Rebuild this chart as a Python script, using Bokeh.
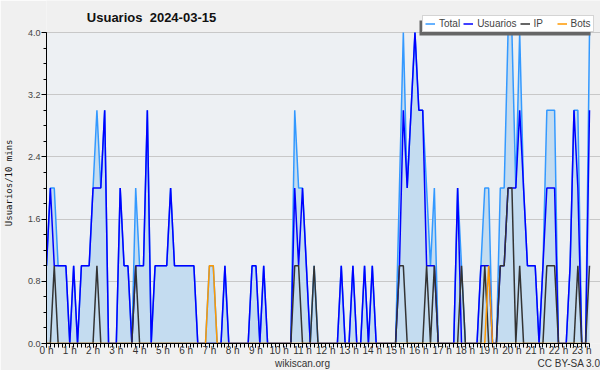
import math
from bokeh.plotting import figure
from bokeh.models import (Range1d, FixedTicker, Label, Legend, LegendItem,
                          ColumnDataSource, BoxAnnotation)
from bokeh.embed import file_html
from bokeh.resources import INLINE

# 10-minute slots of 2024-03-15 (0 = 00:00 ... 140 = 23:20)
slot = list(range(141))
hours = [s / 6 for s in slot]

total = [1,2,2,1,1,1,0,1,0,1,
         1,1,2,3,2,3,0,0,0,2,
         1,1,0,2,1,1,3,0,1,1,
         1,1,2,1,1,1,1,1,1,0,
         0,0,1,1,0,0,1,0,0,0,
         0,0,0,1,1,0,1,0,0,0,
         0,0,0,0,3,2,2,1,0,1,
         0,0,0,0,0,0,1,0,0,1,
         0,0,1,0,1,0,0,0,0,0,
         0,2,4,2,3,4,3,3,2,1,
         2,0,0,0,0,0,2,1,0,0,
         0,0,1,2,2,0,0,2,2,4,
         4,2,4,2,1,1,1,0,1,3,
         3,3,0,0,0,1,3,3,0,0,4]

usuarios = [1,2,1,1,1,1,0,1,0,1,
            1,1,2,2,2,3,0,0,0,2,
            1,1,0,1,1,1,3,0,1,1,
            1,1,2,1,1,1,1,1,1,0,
            0,0,0,0,0,0,1,0,0,0,
            0,0,0,1,1,0,1,0,0,0,
            0,0,0,0,2,1,2,1,0,0,
            0,0,0,0,0,0,1,0,0,1,
            0,0,1,0,1,0,0,0,0,0,
            0,1,3,2,3,4,3,3,1,1,
            1,0,0,0,0,0,2,0,0,0,
            0,0,1,1,1,0,0,1,1,2,
            2,2,3,2,1,1,1,0,1,2,
            2,2,0,0,0,1,3,2,0,0,3]

ip = [0,0,1,0,0,0,0,0,0,0,
      0,0,0,1,0,0,0,0,0,0,
      0,0,0,1,0,0,0,0,0,0,
      0,0,0,0,0,0,0,0,0,0,
      0,0,0,0,0,0,0,0,0,0,
      0,0,0,0,0,0,0,0,0,0,
      0,0,0,0,1,1,0,0,0,1,
      0,0,0,0,0,0,0,0,0,0,
      0,0,0,0,0,0,0,0,0,0,
      0,1,1,0,0,0,0,0,1,0,
      1,0,0,0,0,0,0,1,0,0,
      0,0,0,1,0,0,0,1,1,2,
      2,0,1,0,0,0,0,0,0,1,
      1,1,0,0,0,0,0,1,0,0,1]

bots = [0,0,0,0,0,0,0,0,0,0,
        0,0,0,0,0,0,0,0,0,0,
        0,0,0,0,0,0,0,0,0,0,
        0,0,0,0,0,0,0,0,0,0,
        0,0,1,1,0,0,0,0,0,0,
        0,0,0,0,0,0,0,0,0,0,
        0,0,0,0,0,0,0,0,0,0,
        0,0,0,0,0,0,0,0,0,0,
        0,0,0,0,0,0,0,0,0,0,
        0,0,0,0,0,0,0,0,0,0,
        0,0,0,0,0,0,0,0,0,0,
        0,0,0,0,1,0,0,0,0,0,
        0,0,0,0,0,0,0,0,0,0,
        0,0,0,0,0,0,0,0,0,0,0]

hour_ticks = list(range(24))
hour_labels = {h: f"{h} h" for h in hour_ticks}
y_ticks = [0.0, 0.8, 1.6, 2.4, 3.2, 4.0]
x_end = 140 / 6

# layout geometry (pixels)
PX_H = 543 / x_end        # pixels per hour
PX_U = 311 / 4.0          # pixels per user

src = ColumnDataSource(dict(x=hours, total=total, usuarios=usuarios, ip=ip, bots=bots))

p = figure(frame_width=554, frame_height=343, output_backend="svg", toolbar_location=None,
           x_range=Range1d(0, 554 / PX_H), y_range=Range1d(0, 343 / PX_U),
           min_border_left=46, min_border_right=0, min_border_top=0, min_border_bottom=27)

p.background_fill_color = "#f0f0f0"
p.border_fill_color = "#f0f0f0"
p.outline_line_color = None

# plot-area background
p.add_layout(BoxAnnotation(left=0, right=x_end, bottom=0, top=4, fill_color="#edf0f3",
                           fill_alpha=1.0, line_color=None, level="image"))

p.varea(x="x", y1=0, y2="total", source=src, fill_color="#c4dcf0", fill_alpha=1.0)
r_total = p.line("x", "total", source=src, line_color="#3399ff", line_width=1.5)
r_us = p.line("x", "usuarios", source=src, line_color="#0000ff", line_width=1.5)
r_ip = p.line("x", "ip", source=src, line_color="#333333", line_width=1.5)
r_bots = p.line("x", "bots", source=src, line_color="#ff9900", line_width=1.5)

# x axis (footer texts ride as second lines of tick labels)
xt = hour_ticks + [22.5]
xl = dict(hour_labels)
xl[11] = "11 h\nwikiscan.org"
xl[22.5] = " \nCC BY-SA 3.0"
p.xaxis.ticker = FixedTicker(ticks=xt, minor_ticks=hours)
p.xaxis.major_label_overrides = xl
p.xaxis.bounds = (0, x_end)
p.xaxis.major_tick_out = 4
p.xaxis.major_tick_in = 0
p.xaxis.minor_tick_out = 4
p.xaxis.minor_tick_in = 0
p.xaxis.major_label_standoff = -3
p.xaxis.major_label_text_font = "Liberation Sans"
p.xaxis.major_label_text_font_size = "10px"
p.xaxis.major_label_text_color = "#333333"

p.yaxis.ticker = FixedTicker(ticks=y_ticks, minor_ticks=[i * 0.2 for i in range(21)])
p.yaxis.major_label_overrides = {v: f"{v:.1f}" for v in y_ticks}
p.yaxis.bounds = (0, 4)
p.yaxis.major_tick_out = 5
p.yaxis.major_tick_in = 0
p.yaxis.minor_tick_out = 3
p.yaxis.minor_tick_in = 0
p.yaxis.major_label_standoff = 1
p.yaxis.major_label_text_font = "Liberation Sans"
p.yaxis.major_label_text_font_size = "9px"
p.yaxis.major_label_text_color = "#444444"
p.yaxis.axis_label = "Usuarios/10 mins\u00a0\u00a0\u00a0\u00a0"
p.yaxis.axis_label_standoff = 11
p.yaxis.axis_label_text_font = "DejaVu Sans Mono"
p.yaxis.axis_label_text_font_size = "9px"
p.yaxis.axis_label_text_font_style = "normal"
p.yaxis.axis_label_text_color = "#111111"
for ax in (p.xaxis[0], p.yaxis[0]):
    ax.axis_line_color = "black"
    ax.major_tick_line_color = "black"
    ax.minor_tick_line_color = "black"

p.xgrid.visible = False
p.ygrid.ticker = FixedTicker(ticks=y_ticks)
p.ygrid.bounds = (0, x_end)
p.ygrid.grid_line_color = "#c8c8c8"

# title
p.add_layout(Label(x=(151 - 46) / PX_H, y=(343 - 16.5) / PX_U, text="Usuarios\u00a0 2024-03-15",
                   text_font="Liberation Sans", text_font_style="bold", text_font_size="13px",
                   text_align="center", text_baseline="middle", text_color="#111111"))

# legend shadow + legend
p.add_layout(BoxAnnotation(left=(419 - 46) / PX_H, right=(590 - 46) / PX_H,
                           bottom=(343 - 35) / PX_U, top=(343 - 20) / PX_U,
                           fill_color="#666666", fill_alpha=1.0, line_color=None))
legend = Legend(items=[LegendItem(label="Total", renderers=[r_total]),
                       LegendItem(label="Usuarios", renderers=[r_us]),
                       LegendItem(label="IP", renderers=[r_ip]),
                       LegendItem(label="Bots", renderers=[r_bots])],
                orientation="horizontal", location=(376, 311),
                label_text_font="Liberation Sans", label_text_font_size="10px",
                label_height=11, glyph_height=11, glyph_width=10, spacing=3, padding=2,
                margin=0, label_standoff=4, border_line_color="#aaaaaa", border_line_width=1,
                background_fill_color="white", background_fill_alpha=1.0)
p.add_layout(legend)

open("out.html", "w").write(file_html(p, INLINE))
